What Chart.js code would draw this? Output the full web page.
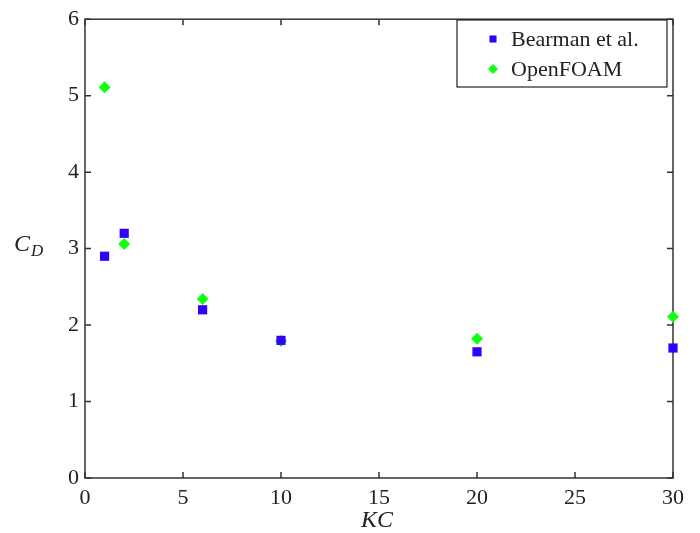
<!DOCTYPE html>
<html>
<head>
<meta charset="utf-8">
<script src="https://cdn.jsdelivr.net/npm/chart.js@4/dist/chart.umd.min.js"></script>
<style>
  html, body { margin: 0; padding: 0; background: #fff; }
  #wrap { width: 700px; height: 533px; }
</style>
</head>
<body>
<div id="wrap"><canvas id="cdChart"></canvas></div>
<script>
// KC numbers and drag coefficients
const kcValues = [1, 2, 6, 10, 20, 30];
const bearmanCd = [2.90, 3.20, 2.20, 1.80, 1.65, 1.70];
const openfoamCd = [5.11, 3.06, 2.34, 1.79, 1.82, 2.11];
const xTicks = [0, 5, 10, 15, 20, 25, 30];
const yTicks = [0, 1, 2, 3, 4, 5, 6];
const seriesNames = ['Bearman et al.', 'OpenFOAM'];

const serif = '"Liberation Serif", "Times New Roman", serif';
const ink = '#222';

function toPoints(xs, ys) {
  return xs.map((x, i) => ({ x: x, y: ys[i] }));
}

// box, inward ticks on all four sides, axis titles and boxed legend
const frame = {
  id: 'frame',
  beforeDatasetsDraw(chart) {
    const ctx = chart.ctx;
    const a = chart.chartArea;
    const xs = chart.scales.x, ys = chart.scales.y;
    const tl = 6;
    ctx.save();
    ctx.strokeStyle = '#333';
    ctx.lineWidth = 1.5;
    ctx.strokeRect(a.left, a.top, a.right - a.left, a.bottom - a.top);
    ctx.beginPath();
    xTicks.forEach(v => {
      const px = xs.getPixelForValue(v);
      ctx.moveTo(px, a.bottom); ctx.lineTo(px, a.bottom - tl);
      ctx.moveTo(px, a.top); ctx.lineTo(px, a.top + tl);
    });
    yTicks.forEach(v => {
      const py = ys.getPixelForValue(v);
      ctx.moveTo(a.left, py); ctx.lineTo(a.left + tl, py);
      ctx.moveTo(a.right, py); ctx.lineTo(a.right - tl, py);
    });
    ctx.stroke();
    ctx.restore();
  },
  afterDraw(chart) {
    const ctx = chart.ctx;
    const a = chart.chartArea;
    ctx.save();
    // axis titles
    ctx.fillStyle = ink;
    ctx.textBaseline = 'alphabetic';
    ctx.font = 'italic 24px ' + serif;
    ctx.textAlign = 'center';
    ctx.fillText('KC', (a.left + a.right) / 2 - 2, 527);
    ctx.textAlign = 'left';
    ctx.fillText('C', 14, 251);
    ctx.font = 'italic 17px ' + serif;
    ctx.fillText('D', 31, 256);

    // legend
    const lx = 457, ly = 20, lw = 210, lh = 67;
    ctx.fillStyle = '#fff';
    ctx.fillRect(lx, ly, lw, lh);
    ctx.strokeStyle = '#222';
    ctx.lineWidth = 1.2;
    ctx.strokeRect(lx, ly, lw, lh);
    ctx.font = '22px ' + serif;
    ctx.textBaseline = 'middle';
    chart.data.datasets.forEach((ds, i) => {
      const yy = ly + 19 + i * 30;
      ctx.fillStyle = ds.backgroundColor;
      Chart.helpers.drawPoint(ctx, {
        pointStyle: ds.pointStyle, radius: 5, rotation: 0, borderWidth: 0
      }, lx + 36, yy);
      ctx.fillStyle = ink;
      ctx.fillText(ds.label, lx + 54, yy + 1);
    });
    ctx.restore();
  }
};

new Chart(document.getElementById('cdChart'), {
  type: 'scatter',
  data: {
    datasets: [
      {
        label: seriesNames[0],
        data: toPoints(kcValues, bearmanCd),
        pointStyle: 'rect',
        pointRadius: 6.5,
        backgroundColor: '#3300ff',
        borderColor: '#3300ff',
        borderWidth: 0,
        clip: false
      },
      {
        label: seriesNames[1],
        data: toPoints(kcValues, openfoamCd),
        pointStyle: 'rectRot',
        pointRadius: 6,
        backgroundColor: '#11ff11',
        borderColor: '#11ff11',
        borderWidth: 0,
        clip: false
      }
    ]
  },
  options: {
    responsive: true,
    maintainAspectRatio: false,
    animation: false,
    layout: { padding: { top: 13, right: 27, left: 0, bottom: 0 } },
    plugins: {
      legend: { display: false },
      tooltip: { enabled: false }
    },
    scales: {
      x: {
        type: 'linear',
        min: 0, max: 30,
        grid: { display: false, drawTicks: false },
        border: { display: false },
        afterBuildTicks: s => { s.ticks = xTicks.map(v => ({ value: v })); },
        afterFit: s => { s.height = 55; },
        ticks: {
          color: ink,
          font: { family: serif, size: 22 },
          padding: 7,
          maxRotation: 0
        }
      },
      y: {
        type: 'linear',
        min: 0, max: 6,
        grid: { display: false, drawTicks: false },
        border: { display: false },
        afterBuildTicks: s => { s.ticks = yTicks.map(v => ({ value: v })); },
        afterFit: s => { s.width = 85; },
        ticks: {
          color: ink,
          font: { family: serif, size: 22 },
          padding: 6
        }
      }
    }
  },
  plugins: [frame]
});
</script>
</body>
</html>
